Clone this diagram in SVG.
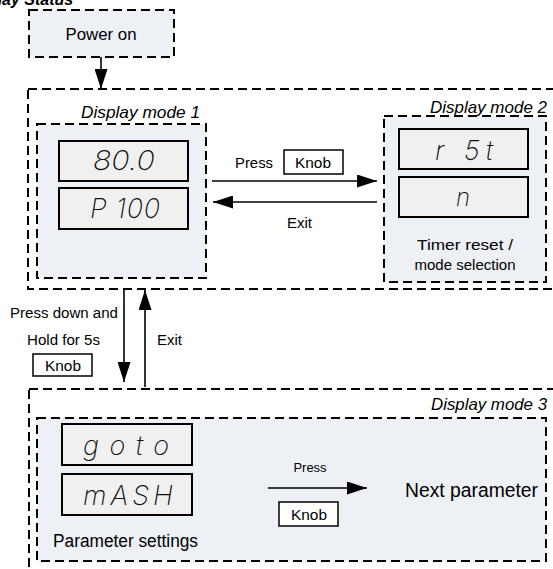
<svg xmlns="http://www.w3.org/2000/svg" width="553" height="569" viewBox="0 0 553 569">
<defs>
<marker id="arr" markerUnits="userSpaceOnUse" viewBox="0 0 20 13" refX="20" refY="6.5" markerWidth="20" markerHeight="13" orient="auto">
<path d="M0,0 L20,6.5 L0,13 Z" fill="#000"/>
</marker>
<style>
.dash{fill:none;stroke:#000;stroke-width:2;stroke-dasharray:9 5}
.dashf{fill:#edf0f5;stroke:#000;stroke-width:2;stroke-dasharray:9 5}
.lcd{fill:#f0f0f0;stroke:#000;stroke-width:2}
.key{fill:#fff;stroke:#000;stroke-width:1.5}
.t{font-family:"Liberation Sans",Arial,sans-serif;fill:#000}
.it{font-family:"Liberation Sans",Arial,sans-serif;font-style:italic;fill:#000}
.seg{font-family:Inter,"DejaVu Sans","Liberation Sans",sans-serif;font-style:italic;font-weight:200;fill:#111}
.conn{stroke:#000;stroke-width:1.6;fill:none}
</style>
</defs>
<rect width="553" height="569" fill="#fff"/>

<g id="title">
<text class="t" x="-37" y="5" font-size="16" font-weight="bold" font-style="italic">Display Status</text>
</g>

<g id="power-on">
<rect class="dashf" x="29" y="10" width="145" height="47"/>
<text class="t" x="101" y="40" font-size="17" text-anchor="middle" textLength="71" lengthAdjust="spacingAndGlyphs">Power on</text>
</g>

<g id="group-top">
<rect class="dash" x="28" y="89" width="540" height="200"/>
</g>

<g id="display-mode-1">
<rect class="dashf" x="37" y="124" width="169" height="154"/>
<text class="it" x="200" y="118" font-size="17" text-anchor="end" textLength="119" lengthAdjust="spacingAndGlyphs">Display mode 1</text>
<rect class="lcd" x="59" y="141" width="129" height="40"/>
<text class="seg" x="124" y="170" font-size="27" text-anchor="middle" textLength="62" lengthAdjust="spacingAndGlyphs">80.0</text>
<rect class="lcd" x="59" y="188" width="129" height="41"/>
<text class="seg" x="125" y="218" font-size="27" text-anchor="middle" textLength="70" lengthAdjust="spacing">P 100</text>
</g>

<g id="display-mode-2">
<rect class="dashf" x="384" y="116" width="162" height="166"/>
<text class="it" x="547" y="113" font-size="17" text-anchor="end" textLength="117" lengthAdjust="spacingAndGlyphs">Display mode 2</text>
<rect class="lcd" x="399" y="129" width="129" height="40"/>
<text class="seg" x="464" y="160" font-size="27" text-anchor="middle" textLength="58" lengthAdjust="spacing">r 5t</text>
<rect class="lcd" x="399" y="177" width="129" height="40"/>
<text class="seg" x="463" y="206" font-size="24" text-anchor="middle">n</text>
<text class="t" x="465" y="250" font-size="14" text-anchor="middle" textLength="96" lengthAdjust="spacingAndGlyphs">Timer reset /</text>
<text class="t" x="465" y="270" font-size="14" text-anchor="middle" textLength="101" lengthAdjust="spacingAndGlyphs">mode selection</text>
</g>

<g id="group-bottom">
<rect class="dash" x="29" y="389" width="540" height="200"/>
</g>

<g id="display-mode-3">
<rect class="dashf" x="37" y="418" width="509" height="143"/>
<text class="it" x="547" y="410" font-size="17" text-anchor="end" textLength="116" lengthAdjust="spacingAndGlyphs">Display mode 3</text>
<rect class="lcd" x="62" y="424" width="130" height="41"/>
<text class="seg" x="126" y="455" font-size="27" text-anchor="middle" textLength="86" lengthAdjust="spacing">goto</text>
<rect class="lcd" x="62" y="474" width="130" height="41"/>
<text class="seg" x="128" y="505" font-size="27" text-anchor="middle" textLength="90" lengthAdjust="spacing">mASH</text>
<text class="t" x="53" y="547" font-size="18" textLength="145" lengthAdjust="spacingAndGlyphs">Parameter settings</text>
<text class="t" x="405" y="497" font-size="20" textLength="133" lengthAdjust="spacingAndGlyphs">Next parameter</text>
</g>

<g id="connectors">
<line class="conn" x1="101" y1="57" x2="101" y2="89" marker-end="url(#arr)"/>
<line class="conn" x1="212" y1="181" x2="377" y2="181" marker-end="url(#arr)"/>
<line class="conn" x1="377" y1="202" x2="213" y2="202" marker-end="url(#arr)"/>
<line class="conn" x1="124" y1="290" x2="124" y2="382" marker-end="url(#arr)"/>
<line class="conn" x1="145" y1="387" x2="145" y2="290" marker-end="url(#arr)"/>
<line class="conn" x1="268" y1="488" x2="367" y2="488" marker-end="url(#arr)"/>
</g>

<g id="connector-labels">
<text class="t" x="235" y="168" font-size="14" textLength="38" lengthAdjust="spacingAndGlyphs">Press</text>
<rect class="key" x="284" y="150" width="59" height="24"/>
<text class="t" x="313" y="168" font-size="14" text-anchor="middle" textLength="36" lengthAdjust="spacingAndGlyphs">Knob</text>
<text class="t" x="287" y="228" font-size="14" textLength="25" lengthAdjust="spacingAndGlyphs">Exit</text>

<text class="t" x="118" y="318" font-size="14" text-anchor="end" textLength="108" lengthAdjust="spacingAndGlyphs">Press down and</text>
<text class="t" x="27" y="345" font-size="14" textLength="73" lengthAdjust="spacingAndGlyphs">Hold for 5s</text>
<rect class="key" x="33" y="354" width="59" height="22"/>
<text class="t" x="63" y="371" font-size="14" text-anchor="middle" textLength="36" lengthAdjust="spacingAndGlyphs">Knob</text>
<text class="t" x="157" y="345" font-size="14" textLength="25" lengthAdjust="spacingAndGlyphs">Exit</text>

<text class="t" x="310" y="472" font-size="12" text-anchor="middle" textLength="33" lengthAdjust="spacingAndGlyphs">Press</text>
<rect class="key" x="279" y="502" width="59" height="24"/>
<text class="t" x="309" y="520" font-size="14" text-anchor="middle" textLength="36" lengthAdjust="spacingAndGlyphs">Knob</text>
</g>
</svg>
